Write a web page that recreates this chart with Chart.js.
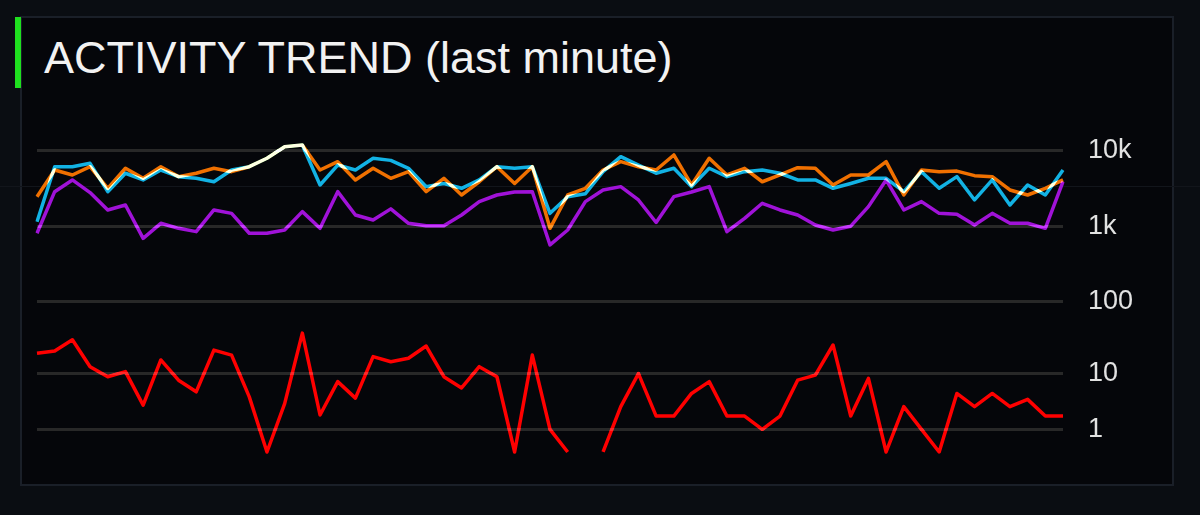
<!DOCTYPE html>
<html>
<head>
<meta charset="utf-8">
<script src="https://cdn.jsdelivr.net/npm/chart.js@4.4.1/dist/chart.umd.min.js"></script>
<style>
  html, body { margin: 0; padding: 0; }
  body {
    width: 1200px; height: 515px; overflow: hidden; position: relative;
    background: #0a0d12;
    font-family: "Liberation Sans", Arial, sans-serif;
  }
  .panel {
    position: absolute; left: 20px; top: 16px; width: 1150px; height: 466px;
    background: #05060a;
    border: 2px solid #1a1f28;
  }
  .hline {
    position: absolute; left: 0; top: 186px; width: 1200px; height: 1px;
    background: #12151b;
  }
  .accent {
    position: absolute; left: 15px; top: 17px; width: 6px; height: 71px;
    background: #1fe01f;
  }
  .title {
    position: absolute; left: 44px; top: 35px;
    font-size: 45px; line-height: 45px; color: #f2f2f2;
    white-space: nowrap;
  }
  canvas { position: absolute; left: 0; top: 0; }
</style>
</head>
<body>
<div class="panel"></div>
<div class="hline"></div>
<div class="accent"></div>
<div class="title">ACTIVITY TREND (last minute)</div>
<canvas id="trend" width="1200" height="515"></canvas>
<script>
// one sample per second, 59 points
const seconds = Array.from({ length: 59 }, (_, i) => i);

const orangeSeries = [
  2470, 5585, 4797, 6180, 3191, 5888, 4335, 6180, 4560, 5058,
  5888, 5308, 6180, 7998, 11400, 12020, 5585, 7210, 4120, 5888,
  4335, 5308, 2877, 4335, 2600, 3900, 6180, 3700, 6180, 937,
  2600, 3191, 5585, 7210, 6180, 5585, 8850, 3530, 7998, 4797,
  5888, 3900, 4797, 6000, 5888, 3530, 4797, 4797, 7210, 2600,
  5585, 5308, 5400, 4700, 4560, 3034, 2600, 3191, 4120
];

const cyanSeries = [
  1148, 6180, 6180, 6855, 2877, 5058, 4120, 5585, 4560, 4335,
  3900, 5585, 6180, 7998, 11400, 12000, 3530, 6500, 5585, 7998,
  7500, 5888, 3357, 3700, 3191, 4120, 6180, 5888, 6180, 1482,
  2470, 2700, 5308, 8400, 6500, 5058, 5888, 3357, 5888, 4560,
  5308, 5585, 5058, 4120, 4120, 3191, 3700, 4335, 4335, 2877,
  5308, 3191, 4560, 2233, 4120, 1914, 3530, 2600, 5585
];

const purpleSeries = [
  805, 2877, 4120, 2800, 1644, 1914, 690, 1093, 937, 846,
  1644, 1482, 805, 805, 890, 1563, 937, 2877, 1409, 1210,
  1700, 1093, 1017, 1017, 1409, 2122, 2600, 2850, 2877, 563,
  890, 2122, 3034, 3357, 2233, 1120, 2470, 2850, 3357, 846,
  1273, 2018, 1644, 1409, 1038, 890, 1000, 1819, 4120, 1644,
  2122, 1482, 1440, 1038, 1482, 1093, 1093, 937, 3900
];

const redSeries = [
  19.5, 21, 30, 12.6, 9, 10.7, 3.2, 15.7, 8, 5.3,
  21.6, 18.4, 4.4, 0, 3.4, 37, 2.1, 7.6, 4.2, 17.5,
  14.8, 16.6, 24.6, 9, 6.1, 12.6, 9, 0, 18.4, 1,
  0, null, 0, 3, 10, 2, 2, 5, 7.6, 2,
  2, 1, 2, 8, 9.5, 25.4, 2, 8.5, 0, 3,
  1, 0, 5, 3, 5, 3, 4, 2, 2
];

const tickValues = [1, 10, 100, 1000, 10000];
const tickLabels = ['1', '10', '100', '1k', '10k'];

// y axis is log10(1 + value) so zeros can sit below the "1" line
const toAxis = (v) => (v === null ? null : Math.log10(1 + v));

// overlapping lines add up (cyan + orange turns pale)
const additiveLines = {
  id: 'additiveLines',
  beforeDatasetsDraw(chart) {
    chart.ctx.save();
    chart.ctx.globalCompositeOperation = 'lighter';
  },
  afterDatasetsDraw(chart) {
    chart.ctx.restore();
  }
};

const lineStyle = (color) => ({
  borderColor: color,
  borderWidth: 3.5,
  pointRadius: 0,
  tension: 0,
  fill: false,
  borderJoinStyle: 'round',
  spanGaps: false
});

new Chart(document.getElementById('trend'), {
  type: 'line',
  data: {
    labels: seconds,
    datasets: [
      { label: 'orange', data: orangeSeries.map(toAxis), ...lineStyle('#f07000') },
      { label: 'cyan', data: cyanSeries.map(toAxis), ...lineStyle('#12b2e4') },
      { label: 'purple', data: purpleSeries.map(toAxis), ...lineStyle('#a012d8') },
      { label: 'red', data: redSeries.map(toAxis), ...lineStyle('#ff0000') }
    ]
  },
  options: {
    responsive: false,
    animation: false,
    devicePixelRatio: 1,
    layout: { padding: { left: 37, top: 105, bottom: 32, right: 28 } },
    plugins: { legend: { display: false }, tooltip: { enabled: false } },
    scales: {
      x: { display: false },
      y: {
        position: 'right',
        min: -0.29,
        max: 4.611,
        afterFit: (scale) => { scale.width = 109; },
        afterBuildTicks: (scale) => {
          scale.ticks = tickValues.map(v => ({ value: Math.log10(1 + v) }));
        },
        border: { display: false },
        grid: { color: '#282828', lineWidth: 3, drawTicks: false },
        ticks: {
          padding: 25,
          color: '#e2e2e2',
          font: { family: 'Liberation Sans', size: 27 },
          callback: (value, index) => tickLabels[index]
        }
      }
    }
  },
  plugins: [additiveLines]
});
</script>
</body>
</html>
